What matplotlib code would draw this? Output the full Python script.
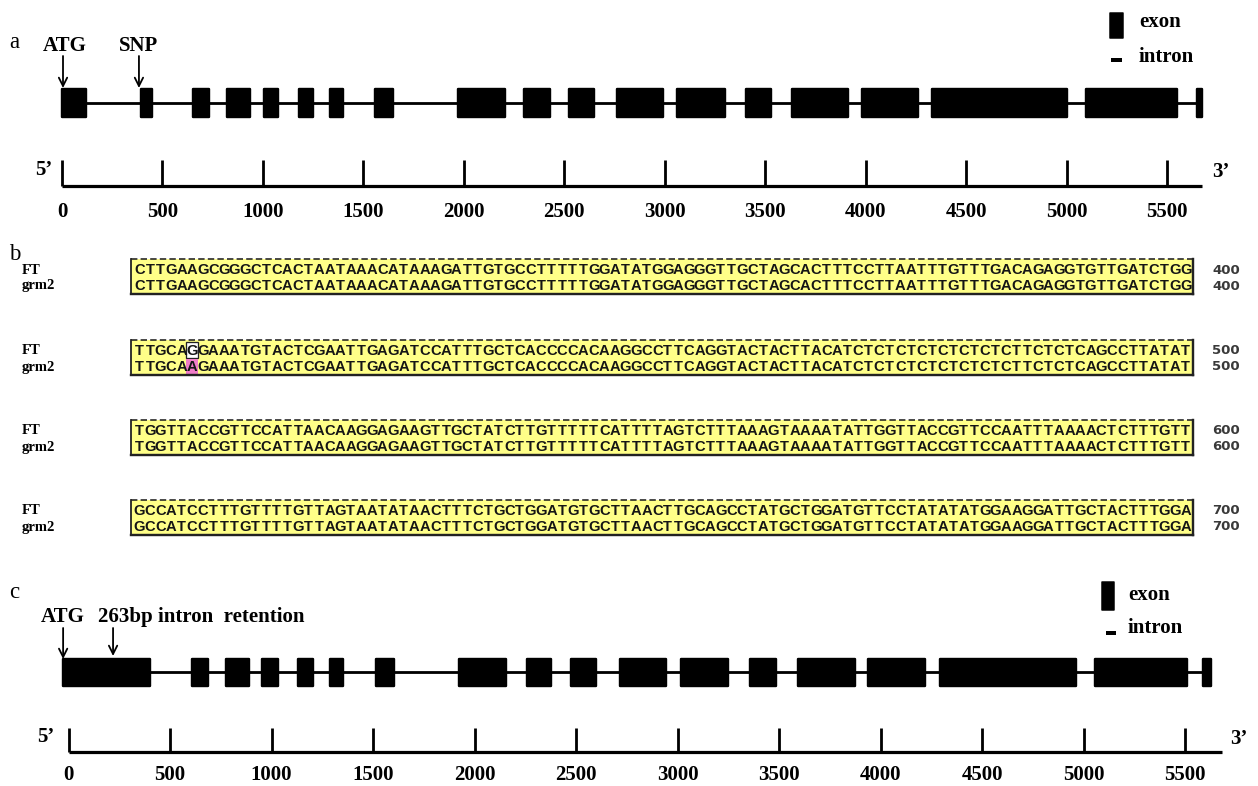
import matplotlib
matplotlib.use("Agg")
import matplotlib.pyplot as plt
from matplotlib.patches import Rectangle

# ---------------- data ----------------
scale_ticks = [0, 500, 1000, 1500, 2000, 2500, 3000, 3500, 4000, 4500, 5000, 5500]

# panel a : gene model (bp)
a_exon_starts = [0, 395, 650, 820, 1005, 1180, 1335, 1560, 1970, 2300, 2525,
                 2765, 3060, 3405, 3635, 3980, 4330, 5095, 5650]
a_exon_ends = [120, 450, 730, 935, 1075, 1250, 1400, 1650, 2205, 2430, 2650,
               2990, 3300, 3530, 3910, 4260, 5000, 5550, 5675]
a_axis_end = 5675
a_marks = {"ATG": 5, "SNP": 383}

# panel c : gene model (bp)
c_exon_starts = [-28, 608, 775, 953, 1130, 1288, 1514, 1923, 2258, 2475,
                 2716, 3017, 3357, 3594, 3938, 4293, 5056, 5590]
c_exon_ends = [402, 688, 889, 1032, 1204, 1352, 1603, 2155, 2376, 2599,
               2943, 3249, 3485, 3874, 4219, 4963, 5509, 5627]
c_axis_end = 5682
c_marks = {"ATG": -27, "263bp": 219}

# panel b : alignment
seq_names = ["FT", "grm2"]
ft_blocks = [
    "CTTGAAGCGGGCTCACTAATAAACATAAAGATTGTGCCTTTTTGGATATGGAGGGTTGCTAGCACTTTCCTTAATTTGTTTGACAGAGGTGTTGATCTGG",
    "TTGCAGGAAATGTACTCGAATTGAGATCCATTTGCTCACCCCACAAGGCCTTCAGGTACTACTTACATCTCTCTCTCTCTCTCTTCTCTCAGCCTTATAT",
    "TGGTTACCGTTCCATTAACAAGGAGAAGTTGCTATCTTGTTTTTCATTTTAGTCTTTAAAGTAAAATATTGGTTACCGTTCCAATTTAAAACTCTTTGTT",
    "GCCATCCTTTGTTTTGTTAGTAATATAACTTTCTGCTGGATGTGCTTAACTTGCAGCCTATGCTGGATGTTCCTATATATGGAAGGATTGCTACTTTGGA",
]
grm2_blocks = [
    "CTTGAAGCGGGCTCACTAATAAACATAAAGATTGTGCCTTTTTGGATATGGAGGGTTGCTAGCACTTTCCTTAATTTGTTTGACAGAGGTGTTGATCTGG",
    "TTGCAAGAAATGTACTCGAATTGAGATCCATTTGCTCACCCCACAAGGCCTTCAGGTACTACTTACATCTCTCTCTCTCTCTCTTCTCTCAGCCTTATAT",
    "TGGTTACCGTTCCATTAACAAGGAGAAGTTGCTATCTTGTTTTTCATTTTAGTCTTTAAAGTAAAATATTGGTTACCGTTCCAATTTAAAACTCTTTGTT",
    "GCCATCCTTTGTTTTGTTAGTAATATAACTTTCTGCTGGATGTGCTTAACTTGCAGCCTATGCTGGATGTTCCTATATATGGAAGGATTGCTACTTTGGA",
]
block_end_numbers = [400, 500, 600, 700]
snp_block, snp_index = 1, 5

# ---------------- figure ----------------
W, H = 1258, 786
fig = plt.figure(figsize=(W / 100, H / 100), dpi=100)
PX = 0.72  # points per pixel

SERIF = "Liberation Serif"


def make_gene_axes(x0_px, px_per_bp):
    ax = fig.add_axes([0, 0, 1, 1])
    ax.set_xlim(-x0_px / px_per_bp, (W - x0_px) / px_per_bp)
    ax.set_ylim(H, 0)
    ax.axis("off")
    return ax


def draw_gene(ax, starts, ends, y_c, h, axis_end, y_base, tick_top, y_lab):
    # intron line
    ax.hlines(y_c, starts[0], ends[-1], color="black", lw=2.8 * PX, zorder=1)
    for s, e in zip(starts, ends):
        ax.add_patch(Rectangle((s, y_c - h / 2), e - s, h, facecolor="black",
                               edgecolor="black", lw=2.4 * PX,
                               joinstyle="round", zorder=2))
    # scale
    ax.hlines(y_base, 0, axis_end, color="black", lw=3.2 * PX,
              capstyle="butt")
    ax.vlines(scale_ticks, tick_top, y_base, color="black", lw=2.8 * PX)
    for t in scale_ticks:
        ax.text(t, y_lab, str(t), ha="center", va="center", fontsize=15,
                fontweight="bold", family=SERIF)


ARROW = dict(arrowstyle="->,head_length=0.6,head_width=0.3",
             lw=1.3, color="black", shrinkA=0, shrinkB=0)

# ---------- panel a ----------
ax_a = make_gene_axes(62, 0.2009)
draw_gene(ax_a, a_exon_starts, a_exon_ends, 103, 28, a_axis_end, 186, 160, 212)
for name, pos in a_marks.items():
    ax_a.annotate("", xy=(pos, 88), xytext=(pos, 56), arrowprops=ARROW)
ax_a.text(a_marks["ATG"] + 10, 46, "ATG", ha="center", va="center",
          fontsize=15, fontweight="bold", family=SERIF)
ax_a.text(a_marks["SNP"], 46, "SNP", ha="center", va="center",
          fontsize=15, fontweight="bold", family=SERIF)

# ---------- panel c ----------
ax_c = make_gene_axes(68.6, 0.203)
draw_gene(ax_c, c_exon_starts, c_exon_ends, 672, 27, c_axis_end, 752, 728, 775)
ax_c.annotate("", xy=(c_marks["ATG"], 659), xytext=(c_marks["ATG"], 628),
              arrowprops=ARROW)
ax_c.annotate("", xy=(c_marks["263bp"], 656), xytext=(c_marks["263bp"], 628),
              arrowprops=ARROW)

# ---------- pixel overlay (labels, legends, panel b) ----------
ax = fig.add_axes([0, 0, 1, 1])
ax.set_xlim(0, W)
ax.set_ylim(H, 0)
ax.axis("off")

serif_b = dict(family=SERIF, fontweight="bold")

# panel labels
ax.text(9, 42, "a", fontsize=16.5, family=SERIF, va="center", ha="left")
ax.text(9, 255, "b", fontsize=16.5, family=SERIF, va="center", ha="left")
ax.text(9, 592, "c", fontsize=16.5, family=SERIF, va="center", ha="left")

# 5' / 3'
ax.text(35, 170, "5\u2019", fontsize=15, va="center", ha="left", **serif_b)
ax.text(1212, 172, "3\u2019", fontsize=15, va="center", ha="left", **serif_b)
ax.text(37, 737, "5\u2019", fontsize=15, va="center", ha="left", **serif_b)
ax.text(1230, 739, "3\u2019", fontsize=15, va="center", ha="left", **serif_b)

# panel c top text
ax.text(41, 617, "ATG", fontsize=15, va="center", ha="left", **serif_b)
ax.text(98, 617, "263bp intron  retention", fontsize=15, va="center",
        ha="left", **serif_b)


# legends
def legend(xr, yr_top, yr_bot, xd, yd, xt, ye, yi):
    ax.add_patch(Rectangle((xr[0], yr_top), xr[1] - xr[0], yr_bot - yr_top,
                           facecolor="black", edgecolor="black", lw=1.5 * PX,
                           joinstyle="round"))
    ax.plot(xd, [yd, yd], color="black", lw=4 * PX, solid_capstyle="butt")
    ax.text(xt, ye, "exon", fontsize=15, va="center", ha="left", **serif_b)
    ax.text(xt, yi, "intron", fontsize=15, va="center", ha="left", **serif_b)


legend((1110, 1123), 13, 38, (1111, 1122), 60, 1139, 22, 57)
legend((1102, 1114), 582, 610, (1106, 1116), 633, 1128, 595, 628)

# ---------- panel b ----------
x_left, x_right = 131, 1193
n_chars = len(ft_blocks[0])
cw = (1191 - 134) / n_chars
block_tops = [259, 340, 420, 500]
yellow = "#FFFF88"
for bi, top in enumerate(block_tops):
    bot = top + 35
    y1, y2 = top + 11, top + 27
    ax.add_patch(Rectangle((x_left, top), x_right - x_left, bot - top,
                           facecolor=yellow, edgecolor="none", zorder=1))
    # borders: dashed top, solid sides/bottom with dark shadow
    ax.plot([x_left, x_right], [top, top], color="#222222", lw=1.6 * PX,
            ls=(0, (4, 2)), zorder=3)
    ax.plot([x_left, x_left], [top, bot], color="#222222", lw=1.8 * PX, zorder=3)
    ax.plot([x_right, x_right], [top, bot], color="#222222", lw=2.4 * PX, zorder=3)
    ax.plot([x_left, x_right], [bot, bot], color="#222222", lw=2.4 * PX, zorder=3)
    if bi == snp_block:
        cx = 134 + snp_index * cw
        ax.add_patch(Rectangle((cx - 0.5, top + 2), cw + 1, 16,
                               facecolor="white", edgecolor="#222222",
                               lw=1.3 * PX, zorder=2))
        ax.add_patch(Rectangle((cx - 0.5, top + 19), cw + 1, 15.5,
                               facecolor="#F07CC8", edgecolor="none", zorder=2))
    for yrow, seq in ((y1, ft_blocks[bi]), (y2, grm2_blocks[bi])):
        for i, ch in enumerate(seq):
            ax.text(134 + (i + 0.5) * cw, yrow, ch, ha="center", va="center",
                    fontsize=10.6, fontweight="bold", family="Liberation Sans",
                    color="#151515", zorder=4)
        ax.text(1212, yrow, str(block_end_numbers[bi]), ha="left",
                va="center", fontsize=9.5, fontweight="bold",
                family="DejaVu Sans", color="#3a3a3a")
    ax.text(22, y1, seq_names[0], ha="left", va="center", fontsize=10.5,
            **serif_b)
    ax.text(22, y2, seq_names[1], ha="left", va="center", fontsize=10.5,
            **serif_b)

fig.savefig("out.png", dpi=100, facecolor="white")
